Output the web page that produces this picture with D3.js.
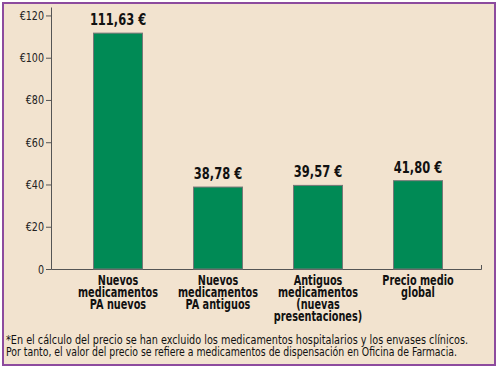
<!DOCTYPE html>
<html>
<head>
<meta charset="utf-8">
<script src="https://cdn.jsdelivr.net/npm/d3@7"></script>
<style>
  html, body { margin: 0; padding: 0; background: #fff; }
  svg { display: block; }
  .narrow { font-family: "DejaVu Sans", sans-serif; font-stretch: condensed; }
</style>
</head>
<body>
<div id="chart"></div>
<script>
const categories = [
  ['Nuevos', 'medicamentos', 'PA nuevos'],
  ['Nuevos', 'medicamentos', 'PA antiguos'],
  ['Antiguos', 'medicamentos', '(nuevas', 'presentaciones)'],
  ['Precio medio', 'global']
];
const prices = [111.63, 38.78, 39.57, 41.80];
const valueLabels = ['111,63 €', '38,78 €', '39,57 €', '41,80 €'];
const yTicks = [0, 20, 40, 60, 80, 100, 120];
const yTickLabels = ['0', '€20', '€40', '€60', '€80', '€100', '€120'];
const footnote = [
  '*En el cálculo del precio se han excluido los medicamentos hospitalarios y los envases clínicos.',
  'Por tanto, el valor del precio se refiere a medicamentos de dispensación en Oficina de Farmacia.'
];
const footnoteWidths = [462, 451];

const W = 497, H = 367;
const svg = d3.select('#chart').append('svg')
  .attr('width', W).attr('height', H)
  .attr('class', 'narrow');

// squeeze text horizontally, the original uses a condensed face
function condense(sel, factor) {
  sel.each(function () {
    const len = this.getComputedTextLength();
    d3.select(this)
      .attr('textLength', len * factor)
      .attr('lengthAdjust', 'spacingAndGlyphs');
  });
}

// background + purple frame
svg.append('rect')
  .attr('x', 3).attr('y', 3).attr('width', W - 5).attr('height', H - 5)
  .style('fill', '#f2e3cf')
  .style('stroke', '#8d4b9e')
  .style('stroke-width', 2);

const x = d3.scaleBand()
  .domain(d3.range(prices.length))
  .range([68, 468])
  .paddingInner(0.5)
  .paddingOuter(0.25);

const y = d3.scaleLinear().domain([0, 124]).range([269, 7]);

// y axis
const yAxis = svg.append('g')
  .attr('transform', 'translate(51,0)')
  .call(d3.axisLeft(y).tickValues(yTicks).tickSize(5).tickSizeOuter(0)
    .tickFormat((d, i) => yTickLabels[i]));
yAxis.attr('font-family', null).attr('font-size', null);
yAxis.selectAll('path, line').style('stroke', '#555');
yAxis.selectAll('text')
  .attr('x', -7)
  .style('font-size', '12.5px')
  .style('fill', '#222')
  .call(condense, 0.85);

// x axis line
const xLine = d3.scaleLinear().domain([0, 1]).range([51, 481]);
const xAxis = svg.append('g')
  .attr('transform', `translate(0,${y(0)})`)
  .call(d3.axisBottom(xLine).tickValues([]).tickSizeOuter(-4));
xAxis.selectAll('path').style('stroke', '#555');

// bars
svg.selectAll('.bar')
  .data(prices)
  .enter()
  .append('rect')
  .attr('class', 'bar')
  .attr('x', (d, i) => x(i) + 0.5)
  .attr('y', (d) => y(d))
  .attr('width', x.bandwidth() - 1)
  .attr('height', (d) => y(0) - y(d))
  .style('fill', '#008a55')
  .style('stroke', '#777')
  .style('stroke-width', 1);

// value labels
svg.selectAll('.value-label')
  .data(prices)
  .enter()
  .append('text')
  .attr('class', 'value-label')
  .attr('x', (d, i) => x(i) + x.bandwidth() / 2)
  .attr('y', (d) => y(d) - 8)
  .attr('text-anchor', 'middle')
  .style('font-size', '15px')
  .style('font-weight', 'bold')
  .style('fill', '#111')
  .text((d, i) => valueLabels[i])
  .call(condense, 0.85);

// category labels, one text per line
svg.selectAll('.cat-label')
  .data(categories.flatMap((lines, i) => lines.map((t, j) => ({ t, i, j }))))
  .enter()
  .append('text')
  .attr('class', 'cat-label')
  .attr('text-anchor', 'middle')
  .attr('x', (d) => x(d.i) + x.bandwidth() / 2)
  .attr('y', (d) => 285 + d.j * 12)
  .style('font-size', '13.5px')
  .style('font-weight', 'bold')
  .style('fill', '#111')
  .text((d) => d.t)
  .call(condense, 0.8);

// footnote
svg.selectAll('.footnote')
  .data(footnote)
  .enter()
  .append('text')
  .attr('class', 'footnote')
  .attr('x', 6)
  .attr('y', (d, i) => 344 + i * 11.5)
  .attr('textLength', (d, i) => footnoteWidths[i])
  .attr('lengthAdjust', 'spacingAndGlyphs')
  .style('font-size', '12.5px')
  .style('fill', '#111')
  .text((d) => d);
</script>
</body>
</html>
